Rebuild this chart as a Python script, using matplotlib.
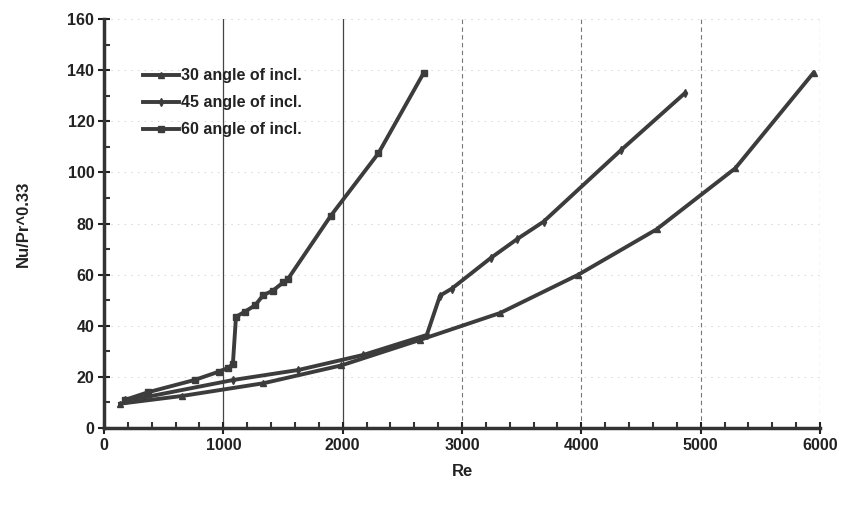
import matplotlib
matplotlib.use("Agg")
import matplotlib.pyplot as plt
from matplotlib.ticker import MultipleLocator

re_30 = [134, 650, 1335, 1990, 2650, 3320, 3976, 4630, 5290, 5946]
nu_30 = [9.5, 12.5, 17.5, 24.5, 34.5, 45.0, 60.0, 77.7, 101.6, 139.0]

re_45 = [176, 340, 1084, 1629, 2174, 2705, 2816, 2914, 3241, 3465, 3683, 4330, 4870]
nu_45 = [11.0, 12.0, 18.8, 22.7, 28.6, 36.4, 51.8, 54.5, 66.5, 74.0, 80.7, 108.6, 131.1]

re_60 = [176, 370, 760, 960, 1040, 1080, 1106, 1180, 1266, 1335, 1414, 1503, 1540, 1900, 2300, 2680]
nu_60 = [11.0, 14.0, 18.8, 22.0, 23.5, 25.0, 43.5, 45.5, 48.0, 52.0, 53.7, 57.0, 58.2, 83.0, 107.5, 139.0]

labels = ["30 angle of incl.", "45 angle of incl.", "60 angle of incl."]
x_ticks = [0, 1000, 2000, 3000, 4000, 5000, 6000]
y_ticks = [0, 20, 40, 60, 80, 100, 120, 140, 160]

plt.rcParams['font.family'] = ['Liberation Sans', 'DejaVu Sans']
plt.rcParams['font.weight'] = 'bold'

fig = plt.figure(figsize=(8.46, 5.16), dpi=100)
ax = fig.add_axes([104/846, 1-428/516, (820-104)/846, (428-19)/516])

lc = '#3c3c3c'
ax.plot(re_30, nu_30, color=lc, lw=2.8, marker='^', ms=5, label=labels[0])
ax.plot(re_45, nu_45, color=lc, lw=2.8, marker='d', ms=4, label=labels[1])
ax.plot(re_60, nu_60, color=lc, lw=2.8, marker='s', ms=4.5, label=labels[2])

ax.set_xlim(0, 6000)
ax.set_ylim(0, 160)
ax.set_xticks(x_ticks)
ax.set_yticks(y_ticks)
ax.xaxis.set_minor_locator(MultipleLocator(200))
ax.yaxis.set_minor_locator(MultipleLocator(10))
ax.tick_params(axis='both', which='major', direction='inout', length=8, width=1.5,
               labelsize=11.5, colors='#222222', pad=3)
ax.tick_params(axis='both', which='minor', direction='in', length=4, width=1.5, color='#333333')
for lab in ax.get_xticklabels() + ax.get_yticklabels():
    lab.set_fontweight('bold')

for s in ['top', 'right']:
    ax.spines[s].set_visible(False)
for s in ['left', 'bottom']:
    ax.spines[s].set_linewidth(2.5)
    ax.spines[s].set_color('#333333')

for xv in x_ticks[1:3]:
    ax.axvline(xv, color='#444444', lw=0.9, zorder=0)
for xv in x_ticks[3:]:
    ax.axvline(xv, color='#777777', lw=0.8, ls=(0, (4, 3)), zorder=0)
for yv in y_ticks[1:]:
    ax.axhline(yv, color='#d5d5d5', lw=0.6, ls=(0, (2, 6)), zorder=0)

ax.set_xlabel('Re', fontsize=12, fontweight='bold', color='#222222', labelpad=8)
ax.set_ylabel('Nu/Pr^0.33', fontsize=12, fontweight='bold', color='#222222', labelpad=26)

leg = ax.legend(loc='upper left', bbox_to_anchor=(0.045, 0.895), frameon=False,
                fontsize=11.5, handlelength=2.3, handletextpad=0.1, labelspacing=0.75,
                borderaxespad=0)
for t in leg.get_texts():
    t.set_fontweight('bold')
    t.set_color('#222222')

fig.savefig('out.png', dpi=100)
